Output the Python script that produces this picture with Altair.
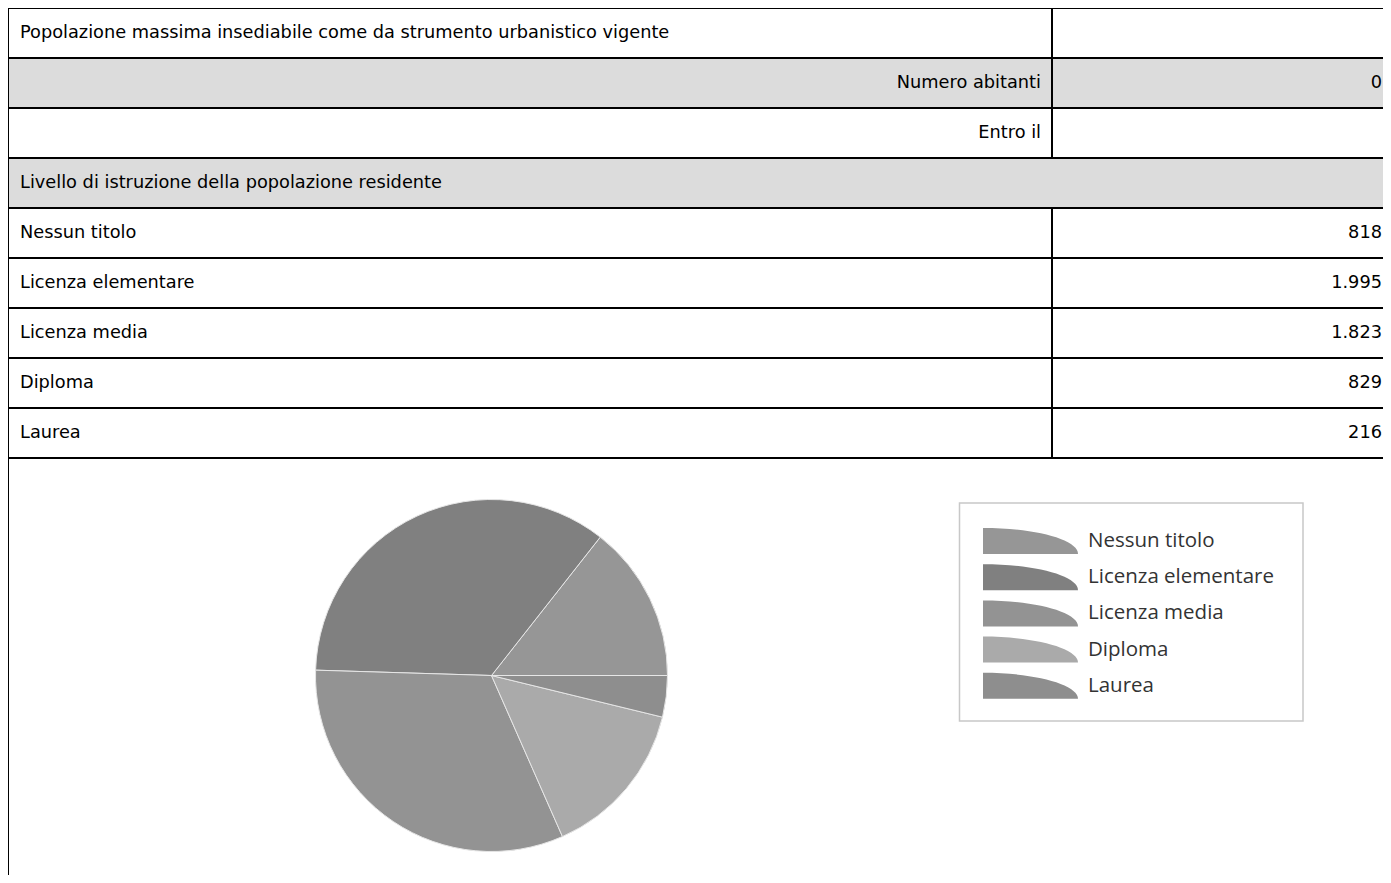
import math
import altair as alt
import pandas as pd

# ---------------- data ----------------
row_labels = [
    "Popolazione massima insediabile come da strumento urbanistico vigente",
    "Numero abitanti",
    "Entro il",
    "Livello di istruzione della popolazione residente",
    "Nessun titolo",
    "Licenza elementare",
    "Licenza media",
    "Diploma",
    "Laurea",
]
row_values = ["", "0", "", "", "818", "1.995", "1.823", "829", "216"]
row_align = ["left", "right", "right", "left", "left", "left", "left", "left", "left"]
row_shaded = [False, True, False, True, False, False, False, False, False]
row_divider = [True, True, True, False, True, True, True, True, True]

education = ["Nessun titolo", "Licenza elementare", "Licenza media", "Diploma", "Laurea"]
counts = [818, 1995, 1823, 829, 216]
slice_colors = ["#969696", "#808080", "#939393", "#aaaaaa", "#8e8e8e"]

# ---------------- layout constants ----------------
W, H = 1375, 867
ROW_H = 50
DIV_X = 1044
TXT_FONT = "DejaVu Sans"
TXT_SIZE = 17.75

rows = pd.DataFrame({
    "row": list(range(len(row_labels))),
    "label": row_labels,
    "value": row_values,
    "align": row_align,
    "fill": ["#dcdcdc" if s else "#ffffff" for s in row_shaded],
    "divider": row_divider,
})
bounds = pd.DataFrame({"b": list(range(len(row_labels) + 1))})
edu = pd.DataFrame({"category": education, "count": counts, "idx": list(range(len(education)))})

yscale = alt.Scale(domain=[0, H], range=[0, H], nice=False, zero=False)
cscale = alt.Scale(domain=education, range=slice_colors)

base_rows = alt.Chart(rows).transform_calculate(
    y0=f"datum.row * {ROW_H}",
    y1=f"(datum.row + 1) * {ROW_H}",
    yc=f"(datum.row + 0.5) * {ROW_H}",
)

fills = base_rows.mark_rect().encode(
    x=alt.value(0), x2=alt.value(W),
    y=alt.Y("y0:Q", scale=yscale, axis=None), y2="y1:Q",
    color=alt.Color("fill:N", scale=None),
)

hlines = alt.Chart(bounds).transform_calculate(yb=f"datum.b * {ROW_H}").mark_rule(
    color="#000000", strokeWidth=2
).encode(
    y=alt.Y("yb:Q", scale=yscale, axis=None), x=alt.value(0), x2=alt.value(W)
)

left_border = alt.Chart(bounds).mark_rule(color="#000000", strokeWidth=2).encode(
    x=alt.value(0), y=alt.value(0), y2=alt.value(H)
)

dividers = base_rows.transform_filter("datum.divider").mark_rule(
    color="#000000", strokeWidth=2
).encode(
    x=alt.value(DIV_X), y=alt.Y("y0:Q", scale=yscale, axis=None), y2="y1:Q"
)

left_text = base_rows.transform_filter("datum.align == 'left'").mark_text(
    align="left", baseline="middle", font=TXT_FONT, fontSize=TXT_SIZE, color="#000000"
).encode(x=alt.value(12), y=alt.Y("yc:Q", scale=yscale, axis=None), text="label:N")

right_text = base_rows.transform_filter("datum.align == 'right'").mark_text(
    align="right", baseline="middle", font=TXT_FONT, fontSize=TXT_SIZE, color="#000000"
).encode(x=alt.value(DIV_X - 11), y=alt.Y("yc:Q", scale=yscale, axis=None), text="label:N")

value_text = base_rows.mark_text(
    align="right", baseline="middle", font=TXT_FONT, fontSize=TXT_SIZE, color="#000000"
).encode(x=alt.value(W - 1), y=alt.Y("yc:Q", scale=yscale, axis=None), text="value:N")

# ---------------- pie ----------------
pie = alt.Chart(edu).mark_arc(outerRadius=176, stroke="#e6e6e6", strokeWidth=1).encode(
    theta=alt.Theta("count:Q", stack=True,
                    scale=alt.Scale(range=[math.pi / 2, math.pi / 2 - 2 * math.pi])),
    color=alt.Color("category:N", scale=cscale, legend=None),
    order=alt.Order("idx:Q"),
    x=alt.value(483.5), y=alt.value(667.5),
)

# ---------------- legend ----------------
LEG_TOP = 533
LEG_STEP = 36.2
SYMBOL = "M -1 0.274 L -1 -0.274 A 2 0.548 0 0 1 1 0.274 Z"

leg_base = alt.Chart(edu).transform_calculate(ly=f"{LEG_TOP} + datum.idx * {LEG_STEP}")

leg_box = alt.Chart(bounds).transform_filter("datum.b == 0").mark_rect(
    fill="#ffffff", stroke="#c8c8c8", strokeWidth=1.5
).encode(x=alt.value(951.5), x2=alt.value(1295), y=alt.value(495), y2=alt.value(713))

leg_sym = leg_base.mark_point(shape=SYMBOL, size=95 * 95, filled=True, opacity=1, strokeWidth=0).encode(
    x=alt.value(1022.5),
    y=alt.Y("ly:Q", scale=yscale, axis=None),
    color=alt.Color("category:N", scale=cscale, legend=None),
)

leg_lab = leg_base.mark_text(
    align="left", baseline="middle", font="Open Sans", fontSize=20.5, color="#333333"
).encode(x=alt.value(1080), y=alt.Y("ly:Q", scale=yscale, axis=None), text="category:N")

chart = alt.layer(
    fills, hlines, left_border, dividers, left_text, right_text, value_text,
    pie, leg_box, leg_sym, leg_lab,
).properties(
    width=W, height=H, padding=0, autosize="none", background="#ffffff"
).configure_view(stroke=None)

chart.save("out.html", embed_options={"renderer": "svg", "actions": False})
